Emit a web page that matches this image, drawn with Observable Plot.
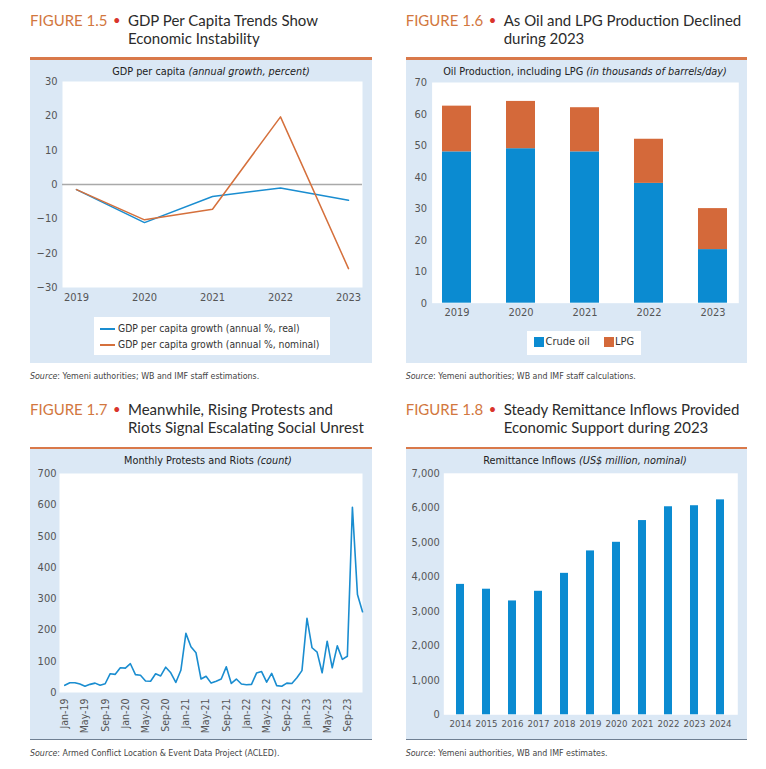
<!DOCTYPE html>
<html><head><meta charset="utf-8">
<script src="https://cdn.jsdelivr.net/npm/d3@7"></script>
<script src="https://cdn.jsdelivr.net/npm/@observablehq/plot@0.6"></script>
<style>
body{margin:0;background:#fff;width:766px;height:769px;position:relative;overflow:hidden;}
.abs{position:absolute;}
.ttl{font-family:Lato,"Noto Sans",sans-serif;font-size:15px;line-height:18px;color:#2b2b2b;white-space:nowrap;}
.fig{color:#d2773e;}
.bul{color:#d9342b;font-size:13px;}
.nar{font-family:"Liberation Sans Narrow","DejaVu Sans Condensed",sans-serif;}
.sub{font-size:10.8px;color:#222;white-space:nowrap;transform:translateX(-50%);}
.src{font-size:8.8px;color:#444;white-space:nowrap;}
.panel{background:#dbe8f5;}
.rule{background:#d9794a;height:3px;}
.leg{background:#fff;font-size:10.3px;color:#333;}
svg{position:absolute;}
</style></head><body>
<script>
// ---------- DATA ----------
const gdpYears = [2019, 2020, 2021, 2022, 2023];
const gdpReal = [-1.5, -11.1, -3.5, -1.0, -4.6];
const gdpNominal = [-1.5, -10.3, -7.2, 19.7, -24.5];
const gdpTicks = [-30, -20, -10, 0, 10, 20, 30];

const oilYears = [2019, 2020, 2021, 2022, 2023];
const crudeOil = [48, 49, 48, 38, 17];
const lpg = [14.5, 15, 14, 14, 13];
const oilTicks = [0, 10, 20, 30, 40, 50, 60, 70];

const protestCounts = [23, 31, 31, 27, 20, 26, 30, 23, 28, 60, 58, 79,
  78, 92, 57, 55, 37, 36, 60, 53, 81, 63, 32, 71,
  189, 146, 127, 43, 52, 30, 36, 43, 82, 29, 43, 27,
  25, 26, 62, 67, 33, 61, 22, 20, 30, 29, 47, 70,
  237, 143, 129, 63, 164, 79, 149, 106, 116, 592, 313, 258];
const protestTickLabels = ["Jan-19","May-19","Sep-19","Jan-20","May-20","Sep-20","Jan-21","May-21",
  "Sep-21","Jan-22","May-22","Sep-22","Jan-23","May-23","Sep-23"];
const protestTicks = [0, 100, 200, 300, 400, 500, 600, 700];

const remitYears = [2014, 2015, 2016, 2017, 2018, 2019, 2020, 2021, 2022, 2023, 2024];
const remittances = [3780, 3640, 3300, 3580, 4100, 4750, 5000, 5630, 6030, 6060, 6230];
const remitTicks = [0, 1000, 2000, 3000, 4000, 5000, 6000, 7000];

// ---------- STYLE ----------
const NARROW = '"Liberation Sans Narrow","DejaVu Sans Condensed",sans-serif';
const BLUE = "#0b8bd1", ORANGE = "#d4693a";
const baseStyle = {background: "transparent", fontFamily: NARROW, fontSize: "11px", color: "#555", overflow: "visible"};

function el(tag, cls, css, html) {
  const e = document.createElement(tag);
  if (cls) e.className = cls;
  Object.assign(e.style, css);
  if (html != null) e.innerHTML = html;
  document.body.appendChild(e);
  return e;
}
function place(svg, left, top) {
  svg.style.left = left + "px"; svg.style.top = top + "px";
  document.body.appendChild(svg);
}
function title(left, top, num, l1, l2) {
  el("div", "abs ttl", {left: left + "px", top: top + "px"},
    `<span class="fig">FIGURE ${num}</span>`);
  el("div", "abs ttl", {left: (left + 83) + "px", top: (top - 1) + "px"}, `<span class="bul">•</span>`);
  el("div", "abs ttl", {left: (left + 98) + "px", top: top + "px"}, l1 + "<br>" + l2);
}

// ---------- PANEL 1.5 ----------
title(30, 11, "1.5", "GDP Per Capita Trends Show", "Economic Instability");
el("div", "abs rule", {left: "30px", top: "57px", width: "342px"});
el("div", "abs panel", {left: "30px", top: "60px", width: "342px", height: "303px"});
el("div", "abs nar sub", {left: "211px", top: "65px"}, "GDP per capita <i>(annual growth, percent)</i>");
const realData = gdpYears.map((y, i) => ({year: y, v: gdpReal[i]}));
const nomData = gdpYears.map((y, i) => ({year: y, v: gdpNominal[i]}));
place(Plot.plot({
  width: 342, height: 303, marginLeft: 32, marginRight: 10, marginTop: 21, marginBottom: 76,
  style: baseStyle,
  x: {type: "point", domain: gdpYears, padding: 0.2, label: null, tickSize: 0, tickPadding: 6, tickFormat: d => String(d)},
  y: {domain: [-30, 30], ticks: gdpTicks, label: null, tickSize: 0, tickPadding: 5},
  marks: [
    Plot.frame({fill: "white", stroke: null}),
    Plot.ruleY([0], {stroke: "#a9a9a9", strokeWidth: 1.5}),
    Plot.line(realData, {x: "year", y: "v", stroke: "#1a8dd0", strokeWidth: 1.5}),
    Plot.line(nomData, {x: "year", y: "v", stroke: "#d5703c", strokeWidth: 1.5})
  ]
}), 30, 60);
el("div", "abs leg nar", {left: "94px", top: "317px", width: "236px", height: "38px"},
  `<div style="position:absolute;left:6px;top:5px;white-space:nowrap"><span style="display:inline-block;width:15px;height:2px;background:#1a8dd0;vertical-align:middle;margin-right:3px"></span>GDP per capita growth (annual %, real)</div>
   <div style="position:absolute;left:6px;top:21px;white-space:nowrap"><span style="display:inline-block;width:15px;height:2px;background:#d5703c;vertical-align:middle;margin-right:3px"></span>GDP per capita growth (annual %, nominal)</div>`);
el("div", "abs nar src", {left: "30px", top: "371px"}, "<i>Source</i>: Yemeni authorities; WB and IMF staff estimations.");

// ---------- PANEL 1.6 ----------
title(405.7, 11, "1.6", "As Oil and LPG Production Declined", "during 2023");
el("div", "abs rule", {left: "405.7px", top: "57px", width: "341.3px"});
el("div", "abs panel", {left: "405.7px", top: "60px", width: "341.3px", height: "303px"});
el("div", "abs nar sub", {left: "585px", top: "65px"}, "Oil Production, including LPG <i>(in thousands of barrels/day)</i>");
const oilData = oilYears.flatMap((y, i) => [{year: y, type: "Crude oil", v: crudeOil[i]}, {year: y, type: "LPG", v: lpg[i]}]);
place(Plot.plot({
  width: 341.3, height: 303, marginLeft: 25.6, marginRight: 9, marginTop: 22, marginBottom: 60.3,
  style: baseStyle,
  x: {type: "band", domain: oilYears, paddingInner: 0.544, paddingOuter: 0.156, label: null, tickSize: 0, tickPadding: 5, tickFormat: d => String(d)},
  y: {domain: [0, 70], ticks: oilTicks, label: null, tickSize: 0, tickPadding: 5},
  color: {domain: ["Crude oil", "LPG"], range: [BLUE, ORANGE]},
  marks: [
    Plot.frame({fill: "white", stroke: null}),
    Plot.barY(oilData, {x: "year", y: "v", fill: "type", inset: 0})
  ]
}), 405.7, 60);
el("div", "abs leg nar", {left: "527px", top: "331px", width: "114px", height: "24px", fontSize: "11px"},
  `<div style="position:absolute;left:6.7px;top:6px;width:10px;height:10px;background:${BLUE}"></div>
   <div style="position:absolute;left:18.5px;top:4px;white-space:nowrap">Crude oil</div>
   <div style="position:absolute;left:76.7px;top:6px;width:10px;height:10px;background:${ORANGE}"></div>
   <div style="position:absolute;left:88px;top:4px;white-space:nowrap">LPG</div>`);
el("div", "abs nar src", {left: "405.7px", top: "371px"}, "<i>Source</i>: Yemeni authorities; WB and IMF staff calculations.");

// ---------- PANEL 1.7 ----------
title(30, 400, "1.7", "Meanwhile, Rising Protests and", "Riots Signal Escalating Social Unrest");
el("div", "abs rule", {left: "30px", top: "447px", width: "342px"});
el("div", "abs panel", {left: "30px", top: "449px", width: "342px", height: "290px", borderBottom: "1.5px solid #6f7f92"});
el("div", "abs nar sub", {left: "208px", top: "454px"}, "Monthly Protests and Riots <i>(count)</i>");
const protestData = protestCounts.map((v, i) => ({m: i, v}));
place(Plot.plot({
  width: 342, height: 290, marginLeft: 29, marginRight: 10, marginTop: 24, marginBottom: 47,
  style: baseStyle,
  x: {domain: [-1.05, 59], label: null, axis: null},
  y: {domain: [0, 700], ticks: protestTicks, label: null, tickSize: 0, tickPadding: 3},
  marks: [
    Plot.frame({fill: "white", stroke: null}),
    Plot.axisX(protestTickLabels.map((_, i) => i * 4), {tickFormat: d => protestTickLabels[d / 4],
      tickRotate: -90, label: null, tickSize: 0, tickPadding: 6, fontSize: 10.5}),
    Plot.line(protestData, {x: "m", y: "v", stroke: "#1a8dd0", strokeWidth: 1.6})
  ]
}), 30, 449);
el("div", "abs nar src", {left: "30px", top: "748px"}, "<i>Source</i>: Armed Conflict Location &amp; Event Data Project (ACLED).");

// ---------- PANEL 1.8 ----------
title(405.7, 400, "1.8", "Steady Remittance Inflows Provided", "Economic Support during 2023");
el("div", "abs rule", {left: "405.7px", top: "447px", width: "341.3px"});
el("div", "abs panel", {left: "405.7px", top: "449px", width: "341.3px", height: "290px", borderBottom: "1.5px solid #6f7f92"});
el("div", "abs nar sub", {left: "585px", top: "454px"}, "Remittance Inflows <i>(US$ million, nominal)</i>");
const remitData = remitYears.map((y, i) => ({year: y, v: remittances[i]}));
place(Plot.plot({
  width: 341.3, height: 290, marginLeft: 37.3, marginRight: 10, marginTop: 23.8, marginBottom: 24.7,
  style: baseStyle,
  x: {type: "band", domain: remitYears, paddingInner: 0.674, paddingOuter: 0.35, label: null, axis: null},
  y: {domain: [0, 7000], ticks: remitTicks, tickFormat: d3.format(","), label: null, tickSize: 0, tickPadding: 4},
  marks: [
    Plot.frame({fill: "white", stroke: null}),
    Plot.axisX({tickFormat: d => String(d), label: null, tickSize: 0, tickPadding: 5, fontSize: 9.6}),
    Plot.barY(remitData, {x: "year", y: "v", fill: BLUE, inset: 0})
  ]
}), 405.7, 449);
el("div", "abs nar src", {left: "405.7px", top: "748px"}, "<i>Source</i>: Yemeni authorities, WB and IMF estimates.");
</script>
</body></html>
